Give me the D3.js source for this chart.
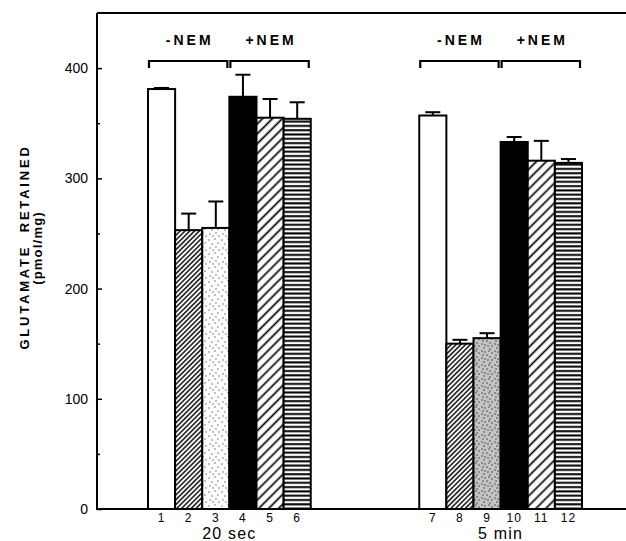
<!DOCTYPE html>
<html>
<head>
<meta charset="utf-8">
<script src="https://cdn.jsdelivr.net/npm/d3@7"></script>
<style>
  body { margin: 0; background: white; }
  text { font-family: 'Liberation Sans', Arial, Helvetica, sans-serif; fill: black; }
</style>
</head>
<body>
<div id="chart"></div>
<script>
// lane numbers under the bars
const lanes = ['1', '2', '3', '4', '5', '6', '7', '8', '9', '10', '11', '12']
// glutamate retained, pmol/mg
const retained = [381, 253, 255, 374, 355, 354, 357, 150, 155, 333, 316, 314]
// error bar (upper half only)
const errors = [1, 15, 24, 20, 17, 15, 3, 3.5, 4.5, 4.5, 18, 3.5]

const timeLabels = ['20 sec', '5 min']
const timeCenterLane = ['4', '10']

const nemLabels = ['-NEM', '+NEM', '-NEM', '+NEM']
const nemFirst = ['1', '4', '7', '10']
const nemLast = ['3', '6', '9', '12']

const yTicks = [0, 100, 200, 300, 400]
const yMinorTicks = [50, 150, 250, 350]

const width = 626
const height = 541

// fill for each lane (treatment type)
const laneFill = {
  '1': 'white', '2': 'url(#dense)', '3': 'url(#dots)', '4': 'black', '5': 'url(#wide)', '6': 'url(#hlines)',
  '7': 'white', '8': 'url(#dense)', '9': 'url(#dotsDark)', '10': 'black', '11': 'url(#wide)', '12': 'url(#hlines)',
}

// empty slots between the two time groups
const slots = lanes.slice(0, 6).concat(['g1', 'g2', 'g3', 'g4']).concat(lanes.slice(6))

const x = d3.scaleBand().domain(slots).range([148, 582]).padding(0)
const y = d3.scaleLinear().domain([0, 450]).range([509, 13])

const svg = d3.select('#chart').append('svg')
  .attr('width', width)
  .attr('height', height)

svg.append('rect')
  .attr('width', width)
  .attr('height', height)
  .attr('fill', 'white')

// ---- patterns
const defs = svg.append('defs')

function hatch(id, spacing, stroke) {
  const p = defs.append('pattern')
    .attr('id', id)
    .attr('patternUnits', 'userSpaceOnUse')
    .attr('width', spacing)
    .attr('height', 10)
    .attr('patternTransform', 'rotate(45)')
  p.append('rect').attr('width', spacing).attr('height', 10).attr('fill', 'white')
  p.append('line')
    .attr('x1', spacing / 2).attr('y1', 0)
    .attr('x2', spacing / 2).attr('y2', 10)
    .attr('stroke', 'black')
    .attr('stroke-width', stroke)
}
hatch('dense', 3.4, 1.4)
hatch('wide', 7, 1.7)

const hl = defs.append('pattern')
  .attr('id', 'hlines')
  .attr('patternUnits', 'userSpaceOnUse')
  .attr('width', 10)
  .attr('height', 4.3)
hl.append('rect').attr('width', 10).attr('height', 4.3).attr('fill', 'white')
hl.append('line')
  .attr('x1', 0).attr('y1', 1.2)
  .attr('x2', 10).attr('y2', 1.2)
  .attr('stroke', 'black')
  .attr('stroke-width', 2)

// stipple tiles, hand placed dots
const lightDots = [[1, 2], [7, 1], [4, 6], [10, 5], [2, 10], [8, 9], [5, 12], [11, 12]]
const darkDots = [[1, 1], [4, 2], [8, 1], [11, 3], [2, 5], [6, 5], [9, 7], [1, 8], [4, 9], [7, 10], [11, 10], [3, 12], [9, 13]]

function stipple(id, bg, dots, r, color) {
  const p = defs.append('pattern')
    .attr('id', id)
    .attr('patternUnits', 'userSpaceOnUse')
    .attr('width', 13)
    .attr('height', 14)
  p.append('rect').attr('width', 13).attr('height', 14).attr('fill', bg)
  dots.forEach(d => {
    p.append('circle')
      .attr('cx', d[0]).attr('cy', d[1])
      .attr('r', r)
      .attr('fill', color)
  })
}
stipple('dots', 'white', lightDots, 0.7, '#555')
stipple('dotsDark', '#c4c4c4', darkDots, 0.8, '#444')

// ---- frame
svg.append('line')
  .attr('x1', 97).attr('x2', width)
  .attr('y1', y(450)).attr('y2', y(450))
  .attr('stroke', 'black').attr('stroke-width', 2)
svg.append('line')
  .attr('x1', 97).attr('x2', 97)
  .attr('y1', y(450)).attr('y2', y(0) + 1)
  .attr('stroke', 'black').attr('stroke-width', 2)

// ---- bars
const bars = svg.append('g').attr('id', 'bars')
lanes.forEach((lane, i) => {
  bars.append('rect')
    .attr('x', x(lane))
    .attr('y', y(retained[i]))
    .attr('width', x.bandwidth())
    .attr('height', y(0) - y(retained[i]))
    .attr('fill', laneFill[lane])
    .attr('stroke', 'black')
    .attr('stroke-width', 2)
})

// error bars
const errs = svg.append('g').attr('id', 'errors')
lanes.forEach((lane, i) => {
  const cx = x(lane) + x.bandwidth() / 2
  const top = y(retained[i] + errors[i])
  errs.append('line')
    .attr('x1', cx).attr('x2', cx)
    .attr('y1', y(retained[i])).attr('y2', top)
    .attr('stroke', 'black').attr('stroke-width', 2)
  errs.append('line')
    .attr('x1', cx - 7.5).attr('x2', cx + 7.5)
    .attr('y1', top).attr('y2', top)
    .attr('stroke', 'black').attr('stroke-width', 2)
})

// ---- y axis
const yAxis = svg.append('g')
  .attr('transform', 'translate(97,0)')
  .call(d3.axisLeft(y).tickValues(yTicks).tickSize(-5).tickPadding(9))
yAxis.select('.domain').remove()
yAxis.selectAll('line').attr('stroke-width', 1.5)
yAxis.selectAll('text')
  .attr('font-size', 14)
  .attr('fill', 'black')

const yMinor = svg.append('g')
  .attr('transform', 'translate(97,0)')
  .call(d3.axisLeft(y).tickValues(yMinorTicks).tickSize(-3).tickFormat(''))
yMinor.select('.domain').remove()
yMinor.selectAll('line').attr('stroke-width', 1.5)

// ---- x axis (lane numbers)
const xAxis = svg.append('g')
  .attr('transform', 'translate(0,' + y(0) + ')')
  .call(d3.axisBottom(x).tickSize(0).tickPadding(4)
    .tickFormat(d => lanes.includes(d) ? d : ''))
xAxis.select('.domain').remove()
xAxis.selectAll('text')
  .attr('font-size', 12)
  .attr('letter-spacing', 1)
  .attr('fill', 'black')

svg.append('line')
  .attr('x1', 96).attr('x2', width)
  .attr('y1', y(0)).attr('y2', y(0))
  .attr('stroke', 'black').attr('stroke-width', 2)

// time labels
timeLabels.forEach((t, i) => {
  svg.append('text')
    .attr('x', x(timeCenterLane[i]))
    .attr('y', 539)
    .attr('text-anchor', 'middle')
    .attr('font-size', 16)
    .attr('letter-spacing', 1.2)
    .text(t)
})

// ---- -NEM / +NEM brackets
const brackets = svg.append('g').attr('id', 'brackets')
nemLabels.forEach((label, i) => {
  const x0 = x(nemFirst[i]) + 1
  const x1 = x(nemLast[i]) + x.bandwidth() - 2
  brackets.append('path')
    .attr('d', 'M' + x0 + ' 68 L' + x0 + ' 61 L' + x1 + ' 61 L' + x1 + ' 68')
    .attr('fill', 'none')
    .attr('stroke', 'black')
    .attr('stroke-width', 2.2)
  brackets.append('text')
    .attr('x', (x0 + x1) / 2 + 1.5)
    .attr('y', 45)
    .attr('text-anchor', 'middle')
    .attr('font-size', 14)
    .attr('font-weight', 'bold')
    .attr('letter-spacing', 3)
    .text(label)
})

// ---- y axis title
svg.append('text')
  .attr('transform', 'translate(28.5,247) rotate(-90)')
  .attr('text-anchor', 'middle')
  .attr('font-size', 13)
  .attr('font-weight', 'bold')
  .attr('letter-spacing', 2.8)
  .attr('word-spacing', 6)
  .text('GLUTAMATE RETAINED')
svg.append('text')
  .attr('transform', 'translate(42,248) rotate(-90)')
  .attr('text-anchor', 'middle')
  .attr('font-size', 13)
  .attr('font-weight', 'bold')
  .attr('letter-spacing', 1.2)
  .text('(pmol/mg)')
</script>
</body>
</html>
